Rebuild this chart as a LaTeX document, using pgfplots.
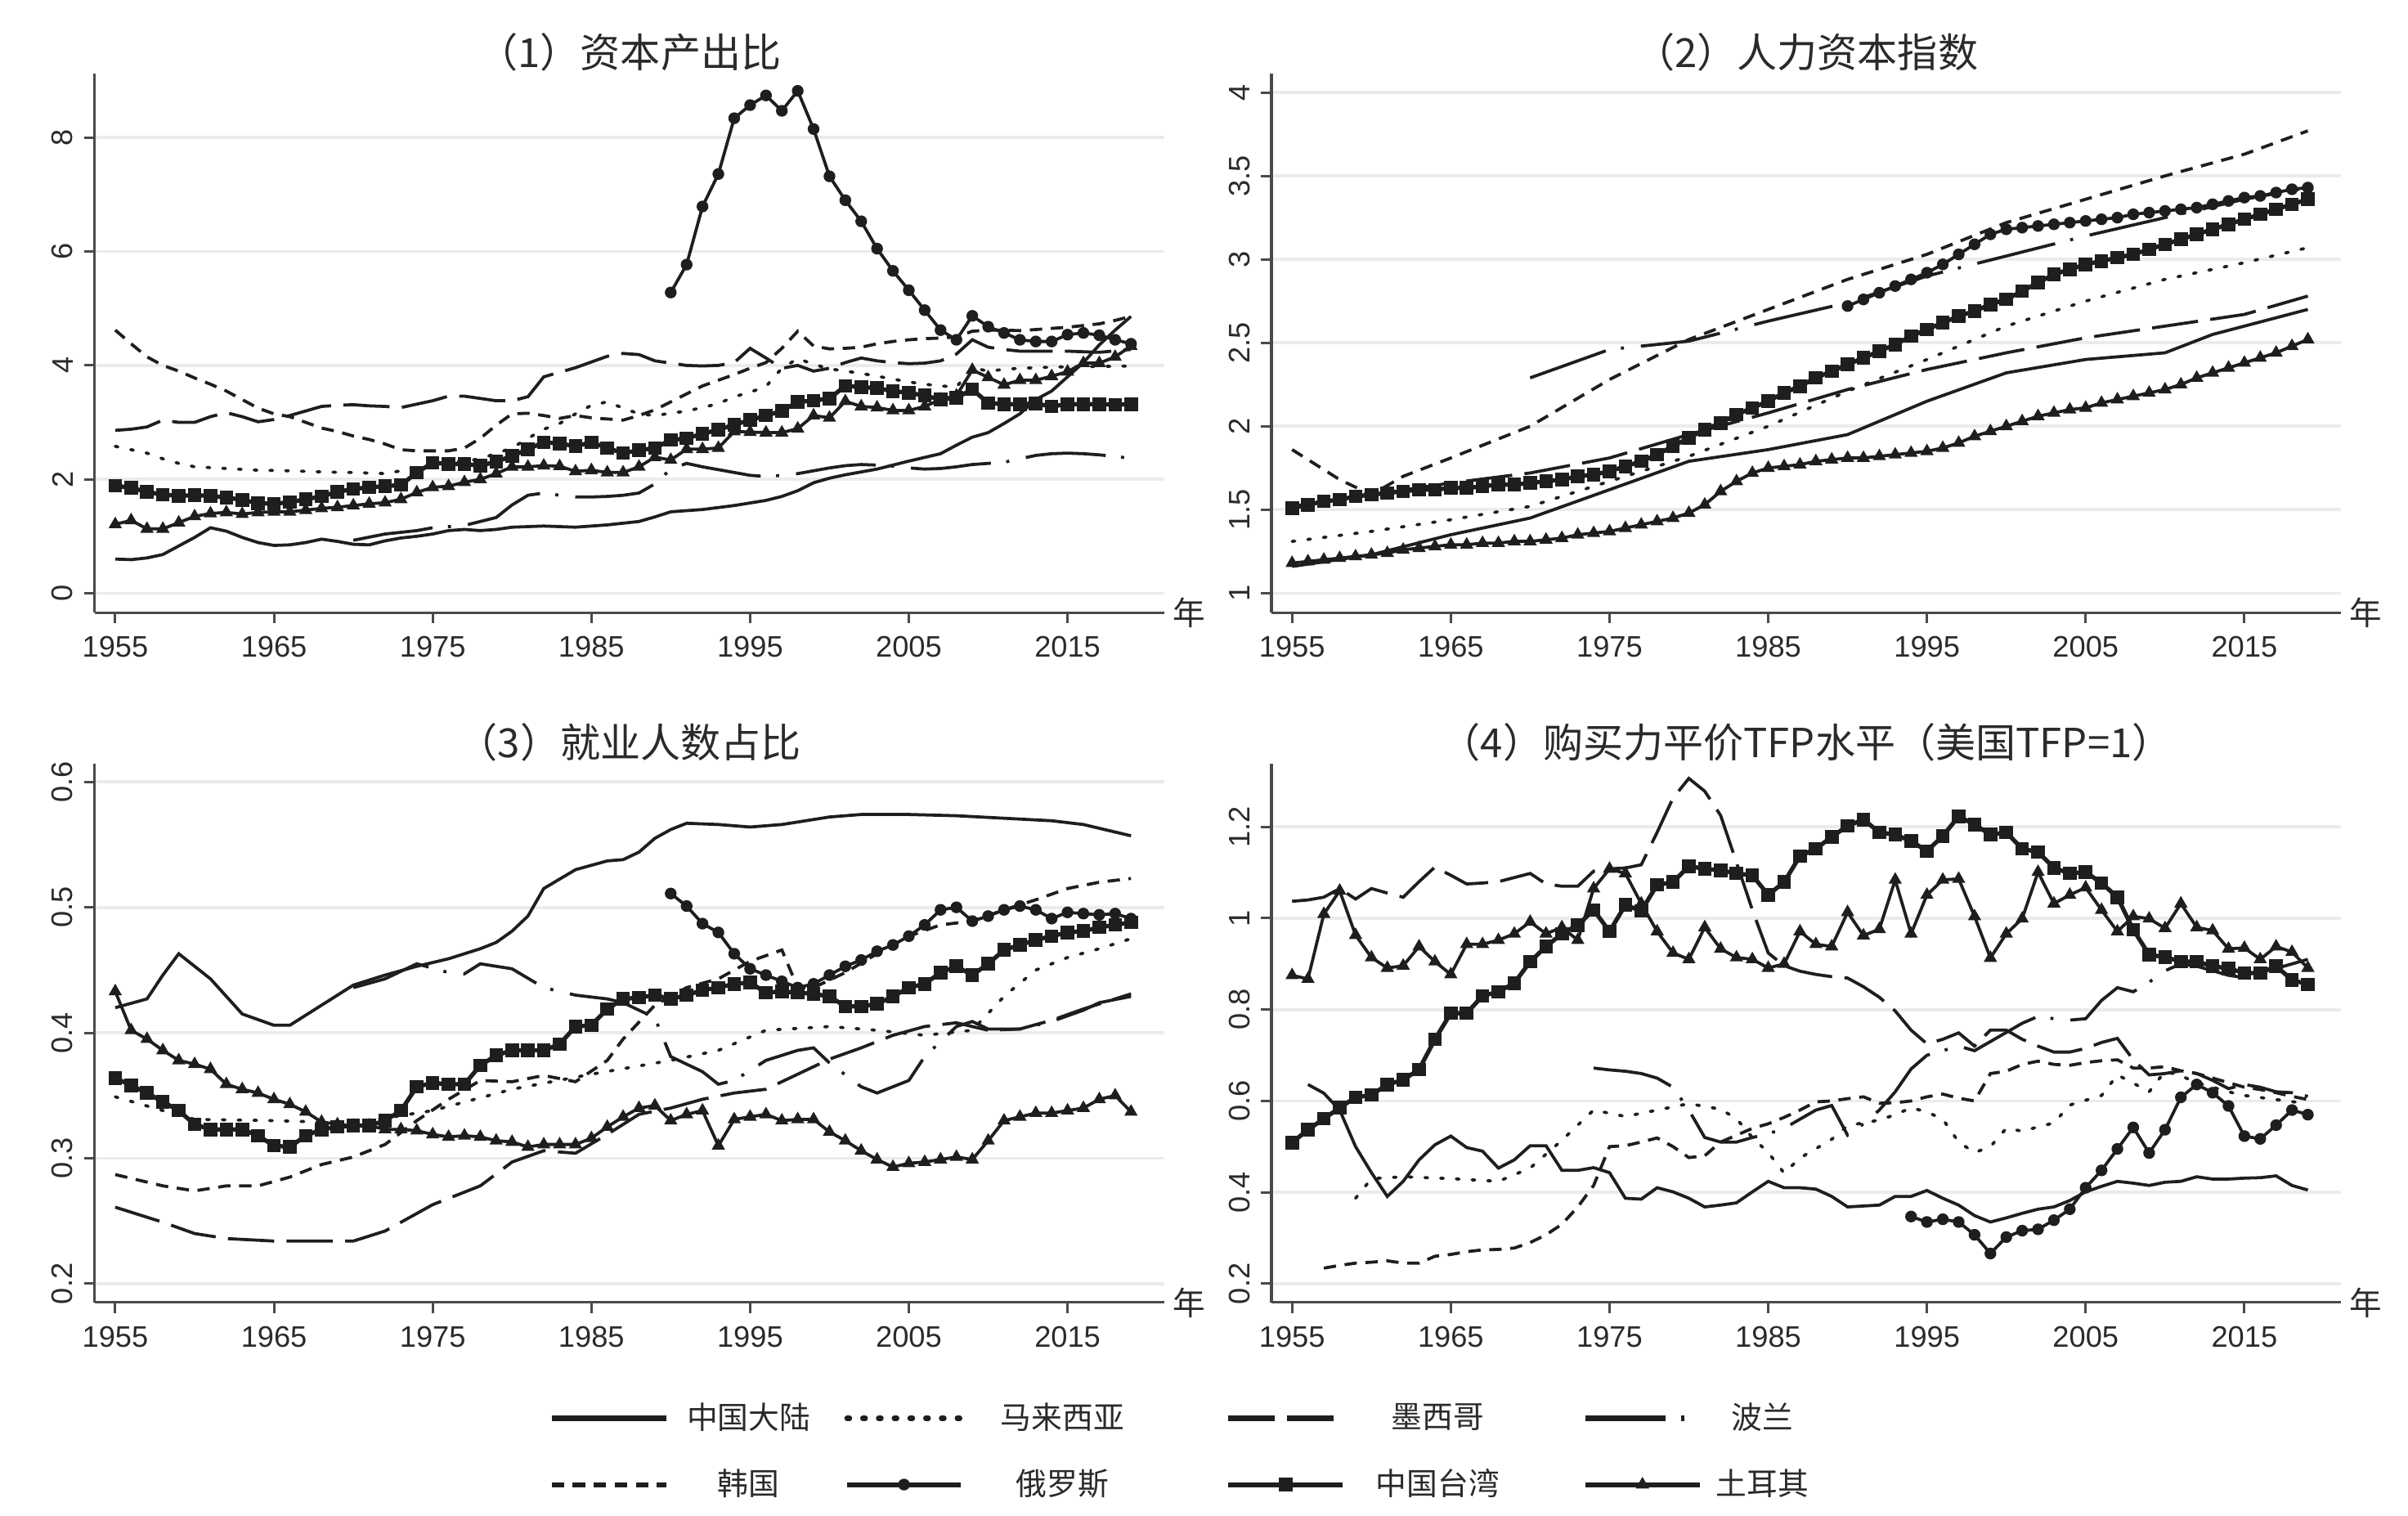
\documentclass[border=0pt]{standalone}
\usepackage{fontspec}
\usepackage{pgfplots}
\pgfplotsset{compat=1.18}
\setmainfont{Liberation Sans}
\newfontfamily\cjk{Noto Sans CJK SC}
\definecolor{ln}{HTML}{1E1E1E}
\definecolor{axc}{HTML}{4A4A4A}
\definecolor{gridc}{HTML}{EBEBEB}
\definecolor{txt}{HTML}{2A2A2A}
\pgfplotsset{
  panel/.style={
    scale only axis, width=346.5pt, height=174.5pt,
    xmin=1953.7, xmax=2021.1,
    axis lines*=left,
    axis line style={draw=axc, line width=0.8pt},
    tick align=outside, major tick length=3.5pt,
    tick style={draw=axc, line width=0.8pt},
    xtick={1955,1965,1975,1985,1995,2005,2015},
    x tick label style={/pgf/number format/1000 sep={}, yshift=-0.6pt},
    y tick label style={rotate=90, anchor=south},
    ymajorgrids, grid style={draw=gridc, line width=1pt},
    tick label style={font=\fontsize{9.6}{11}\selectfont, text=txt},
    /pgf/number format/assume math mode=true,
    title style={font=\cjk\fontsize{13}{15}\selectfont, text=txt, at={(axis description cs:0.5,1)}, anchor=center, yshift=1.0pt},
    xlabel={年},
    xlabel style={at={(axis description cs:1,0)}, anchor=west, inner sep=0pt, xshift=2.5pt, font=\cjk\fontsize{10.5}{12}\selectfont, text=txt},
  },
  lgimg/.style={legend image code/.code={\draw[mark repeat=2,mark phase=2,##1,line width=1.6pt] plot coordinates {(0pt,0pt) (18.5pt,0pt) (37pt,0pt)};}},
  cn/.style={draw=ln, line width=1pt, no markers},
  my/.style={draw=ln, line width=1pt, dash pattern=on 0.9pt off 4.2pt, line cap=round, no markers},
  mx/.style={draw=ln, line width=1pt, dash pattern=on 15pt off 4pt, no markers},
  pl/.style={draw=ln, line width=1pt, dash pattern=on 26pt off 5pt on 1pt off 5.5pt, no markers},
  kr/.style={draw=ln, line width=1pt, dash pattern=on 4pt off 2.8pt, no markers},
  ru/.style={draw=ln, line width=1pt, mark=*, mark size=1.6pt, mark options={solid, fill=ln, draw=ln, line width=0.6pt}},
  tw/.style={draw=ln, line width=1.4pt, mark=square*, mark size=1.9pt, mark options={solid, fill=ln, draw=ln, line width=0.6pt}},
  tr/.style={draw=ln, line width=1pt, mark=triangle*, mark size=1.9pt, mark options={solid, fill=ln, draw=ln, line width=0.6pt}},
}
\begin{document}
\begin{tikzpicture}
\useasboundingbox (0,0) rectangle (780pt,490.8pt);
% ================= Panel 1 =================
\begin{axis}[panel, at={(30.65pt,292.35pt)}, anchor=south west,
  ymin=-0.341, ymax=9.117, ytick={0,2,4,6,8},
  title={（1）资本产出比}]
\addplot[cn] coordinates {(1955,0.60)(1956,0.59)(1957,0.62)(1958,0.68)(1959,0.83)(1960,0.98)(1961,1.15)(1962,1.09)(1963,0.98)(1964,0.89)(1965,0.84)(1966,0.85)(1967,0.89)(1968,0.95)(1969,0.91)(1970,0.86)(1971,0.85)(1972,0.92)(1973,0.97)(1974,1.00)(1975,1.04)(1976,1.10)(1977,1.12)(1978,1.10)(1979,1.12)(1980,1.16)(1982,1.18)(1984,1.16)(1986,1.20)(1988,1.26)(1989,1.34)(1990,1.43)(1992,1.47)(1994,1.54)(1996,1.63)(1997,1.70)(1998,1.80)(1999,1.94)(2000,2.02)(2001,2.08)(2003,2.18)(2005,2.32)(2007,2.45)(2008,2.60)(2009,2.74)(2010,2.82)(2011,2.98)(2012,3.15)(2013,3.40)(2014,3.55)(2015,3.80)(2016,4.05)(2017,4.36)(2018,4.62)(2019,4.86)};
\addplot[my] coordinates {(1955,2.58)(1956,2.52)(1957,2.46)(1958,2.36)(1959,2.28)(1960,2.22)(1962,2.19)(1964,2.16)(1966,2.15)(1968,2.13)(1970,2.12)(1972,2.10)(1974,2.20)(1976,2.28)(1978,2.36)(1980,2.55)(1981,2.72)(1982,2.88)(1983,2.98)(1984,3.15)(1985,3.30)(1986,3.36)(1987,3.25)(1988,3.15)(1989,3.12)(1990,3.16)(1991,3.20)(1992,3.26)(1993,3.33)(1994,3.45)(1995,3.53)(1996,3.63)(1997,3.95)(1998,4.12)(1999,4.02)(2000,3.94)(2001,3.90)(2002,3.86)(2003,3.81)(2004,3.76)(2005,3.71)(2006,3.67)(2007,3.64)(2008,3.62)(2009,3.96)(2010,3.90)(2011,3.93)(2012,3.95)(2014,3.97)(2016,3.98)(2019,3.99)};
\addplot[mx] coordinates {(1955,2.86)(1956,2.88)(1957,2.92)(1958,3.04)(1959,3.00)(1960,3.00)(1961,3.10)(1962,3.17)(1963,3.10)(1964,3.01)(1965,3.05)(1966,3.12)(1967,3.20)(1968,3.28)(1969,3.30)(1970,3.31)(1971,3.29)(1972,3.28)(1973,3.26)(1974,3.32)(1975,3.38)(1976,3.46)(1977,3.46)(1978,3.42)(1979,3.38)(1980,3.38)(1981,3.45)(1982,3.80)(1983,3.88)(1984,3.96)(1985,4.06)(1986,4.16)(1987,4.21)(1988,4.19)(1989,4.08)(1990,4.04)(1991,4.00)(1992,3.99)(1993,4.00)(1994,4.05)(1995,4.30)(1996,4.13)(1997,3.95)(1998,4.00)(1999,3.90)(2000,3.95)(2001,4.05)(2002,4.13)(2003,4.08)(2004,4.05)(2005,4.03)(2006,4.04)(2007,4.08)(2008,4.20)(2009,4.45)(2010,4.32)(2011,4.28)(2012,4.25)(2013,4.25)(2015,4.25)(2017,4.23)(2019,4.28)};
\addplot[pl] coordinates {(1970,0.93)(1972,1.04)(1974,1.10)(1975,1.15)(1977,1.19)(1979,1.33)(1980,1.55)(1981,1.72)(1982,1.76)(1983,1.72)(1984,1.69)(1985,1.69)(1986,1.70)(1987,1.72)(1988,1.76)(1989,1.92)(1990,2.18)(1991,2.28)(1992,2.22)(1993,2.17)(1994,2.12)(1995,2.07)(1996,2.05)(1997,2.07)(1998,2.10)(1999,2.15)(2000,2.20)(2001,2.24)(2002,2.26)(2003,2.25)(2004,2.23)(2005,2.20)(2006,2.18)(2007,2.19)(2008,2.22)(2009,2.26)(2010,2.28)(2011,2.30)(2012,2.36)(2013,2.42)(2014,2.45)(2015,2.46)(2016,2.45)(2017,2.43)(2018,2.40)(2019,2.37)};
\addplot[kr] coordinates {(1955,4.62)(1956,4.38)(1957,4.15)(1958,4.00)(1959,3.90)(1960,3.78)(1961,3.67)(1962,3.55)(1963,3.40)(1964,3.25)(1965,3.15)(1966,3.10)(1967,3.00)(1968,2.90)(1969,2.84)(1970,2.76)(1971,2.70)(1972,2.62)(1973,2.52)(1974,2.50)(1975,2.50)(1976,2.50)(1977,2.55)(1978,2.72)(1979,2.95)(1980,3.15)(1981,3.16)(1982,3.12)(1983,3.07)(1984,3.12)(1985,3.08)(1986,3.06)(1987,3.04)(1988,3.12)(1989,3.22)(1990,3.36)(1991,3.50)(1992,3.64)(1993,3.74)(1994,3.84)(1995,3.95)(1996,4.05)(1997,4.30)(1998,4.60)(1999,4.34)(2000,4.29)(2001,4.30)(2002,4.32)(2003,4.38)(2004,4.42)(2005,4.45)(2006,4.47)(2007,4.48)(2008,4.50)(2009,4.60)(2010,4.62)(2011,4.62)(2012,4.61)(2013,4.63)(2014,4.65)(2015,4.67)(2016,4.70)(2017,4.73)(2018,4.79)(2019,4.86)};
\addplot[ru] coordinates {(1990,5.28)(1991,5.77)(1992,6.79)(1993,7.36)(1994,8.34)(1995,8.57)(1996,8.74)(1997,8.47)(1998,8.82)(1999,8.15)(2000,7.32)(2001,6.90)(2002,6.53)(2003,6.05)(2004,5.66)(2005,5.32)(2006,4.97)(2007,4.62)(2008,4.45)(2009,4.87)(2010,4.68)(2011,4.57)(2012,4.45)(2013,4.42)(2014,4.42)(2015,4.54)(2016,4.57)(2017,4.53)(2018,4.45)(2019,4.38)};
\addplot[tw] coordinates {(1955,1.89)(1956,1.85)(1957,1.78)(1958,1.73)(1959,1.71)(1960,1.72)(1961,1.71)(1962,1.68)(1963,1.64)(1964,1.58)(1965,1.57)(1966,1.60)(1967,1.65)(1968,1.70)(1969,1.78)(1970,1.83)(1971,1.86)(1972,1.88)(1973,1.90)(1974,2.12)(1975,2.29)(1976,2.27)(1977,2.27)(1978,2.24)(1979,2.31)(1980,2.41)(1981,2.53)(1982,2.65)(1983,2.63)(1984,2.58)(1985,2.65)(1986,2.55)(1987,2.46)(1988,2.51)(1989,2.55)(1990,2.69)(1991,2.72)(1992,2.80)(1993,2.87)(1994,2.96)(1995,3.04)(1996,3.12)(1997,3.20)(1998,3.36)(1999,3.38)(2000,3.42)(2001,3.64)(2002,3.62)(2003,3.60)(2004,3.55)(2005,3.52)(2006,3.47)(2007,3.40)(2008,3.43)(2009,3.58)(2010,3.34)(2011,3.32)(2012,3.32)(2013,3.33)(2014,3.28)(2015,3.32)(2016,3.32)(2017,3.32)(2018,3.31)(2019,3.32)};
\addplot[tr] coordinates {(1955,1.21)(1956,1.28)(1957,1.13)(1958,1.13)(1959,1.24)(1960,1.35)(1961,1.40)(1962,1.42)(1963,1.39)(1964,1.42)(1965,1.43)(1966,1.43)(1967,1.46)(1968,1.49)(1969,1.51)(1970,1.54)(1971,1.57)(1972,1.59)(1973,1.65)(1974,1.77)(1975,1.86)(1976,1.88)(1977,1.95)(1978,2.00)(1979,2.10)(1980,2.22)(1981,2.22)(1982,2.24)(1983,2.23)(1984,2.14)(1985,2.16)(1986,2.12)(1987,2.12)(1988,2.22)(1989,2.39)(1990,2.34)(1991,2.53)(1992,2.53)(1993,2.55)(1994,2.84)(1995,2.83)(1996,2.82)(1997,2.82)(1998,2.89)(1999,3.12)(2000,3.08)(2001,3.37)(2002,3.28)(2003,3.26)(2004,3.21)(2005,3.21)(2006,3.28)(2007,3.40)(2008,3.47)(2009,3.92)(2010,3.79)(2011,3.66)(2012,3.74)(2013,3.74)(2014,3.81)(2015,3.89)(2016,4.04)(2017,4.04)(2018,4.15)(2019,4.34)};
\end{axis}
% ================= Panel 2 =================
\begin{axis}[panel, at={(411.85pt,292.35pt)}, anchor=south west,
  ymin=0.883, ymax=4.111, ytick={1,1.5,2,2.5,3,3.5,4},
  title={（2）人力资本指数}]
\addplot[cn] coordinates {(1955,1.16)(1960,1.23)(1965,1.35)(1970,1.45)(1975,1.62)(1980,1.79)(1985,1.86)(1990,1.95)(1995,2.15)(2000,2.32)(2005,2.40)(2010,2.44)(2013,2.55)(2015,2.60)(2019,2.70)};
\addplot[my] coordinates {(1955,1.31)(1960,1.37)(1965,1.44)(1970,1.52)(1975,1.67)(1980,1.82)(1985,2.00)(1990,2.21)(1995,2.40)(2000,2.60)(2005,2.75)(2010,2.88)(2015,2.98)(2019,3.07)};
\addplot[mx] coordinates {(1955,1.52)(1960,1.59)(1965,1.66)(1970,1.72)(1975,1.81)(1980,1.95)(1985,2.08)(1990,2.22)(1995,2.34)(2000,2.44)(2005,2.53)(2010,2.60)(2015,2.67)(2019,2.78)};
\addplot[pl] coordinates {(1970,2.29)(1975,2.46)(1977,2.48)(1980,2.51)(1985,2.63)(1990,2.74)(1995,2.90)(2000,3.02)(2005,3.14)(2010,3.25)(2015,3.36)(2019,3.43)};
\addplot[kr] coordinates {(1955,1.86)(1958,1.68)(1960,1.59)(1962,1.70)(1965,1.81)(1970,2.00)(1975,2.28)(1980,2.52)(1985,2.70)(1990,2.88)(1995,3.03)(2000,3.22)(2005,3.36)(2010,3.50)(2015,3.63)(2019,3.77)};
\addplot[ru] coordinates {(1990,2.72)(1991,2.76)(1992,2.80)(1993,2.84)(1994,2.88)(1995,2.92)(1996,2.97)(1997,3.03)(1998,3.09)(1999,3.15)(2000,3.18)(2001,3.19)(2002,3.20)(2003,3.21)(2004,3.22)(2005,3.23)(2006,3.24)(2007,3.25)(2008,3.27)(2009,3.28)(2010,3.29)(2011,3.30)(2012,3.31)(2013,3.33)(2014,3.35)(2015,3.37)(2016,3.38)(2017,3.40)(2018,3.42)(2019,3.43)};
\addplot[tw] coordinates {(1955,1.51)(1956,1.53)(1957,1.55)(1958,1.56)(1959,1.58)(1960,1.59)(1961,1.60)(1962,1.61)(1963,1.62)(1964,1.62)(1965,1.63)(1966,1.63)(1967,1.64)(1968,1.65)(1969,1.65)(1970,1.66)(1971,1.67)(1972,1.68)(1973,1.70)(1974,1.71)(1975,1.73)(1976,1.76)(1977,1.79)(1978,1.83)(1979,1.88)(1980,1.93)(1981,1.98)(1982,2.02)(1983,2.07)(1984,2.11)(1985,2.15)(1986,2.20)(1987,2.24)(1988,2.29)(1989,2.33)(1990,2.37)(1991,2.41)(1992,2.45)(1993,2.49)(1994,2.54)(1995,2.58)(1996,2.62)(1997,2.66)(1998,2.69)(1999,2.73)(2000,2.76)(2001,2.81)(2002,2.86)(2003,2.91)(2004,2.94)(2005,2.97)(2006,2.99)(2007,3.01)(2008,3.03)(2009,3.06)(2010,3.09)(2011,3.12)(2012,3.15)(2013,3.18)(2014,3.21)(2015,3.24)(2016,3.27)(2017,3.30)(2018,3.33)(2019,3.36)};
\addplot[tr] coordinates {(1955,1.18)(1956,1.19)(1957,1.20)(1958,1.21)(1959,1.22)(1960,1.23)(1961,1.24)(1962,1.26)(1963,1.27)(1964,1.28)(1965,1.29)(1966,1.29)(1967,1.30)(1968,1.30)(1969,1.31)(1970,1.31)(1971,1.32)(1972,1.33)(1973,1.35)(1974,1.36)(1975,1.37)(1976,1.39)(1977,1.41)(1978,1.43)(1979,1.45)(1980,1.48)(1981,1.53)(1982,1.61)(1983,1.67)(1984,1.72)(1985,1.75)(1986,1.76)(1987,1.77)(1988,1.79)(1989,1.80)(1990,1.81)(1991,1.81)(1992,1.82)(1993,1.83)(1994,1.84)(1995,1.85)(1996,1.87)(1997,1.90)(1998,1.94)(1999,1.97)(2000,2.00)(2001,2.03)(2002,2.06)(2003,2.08)(2004,2.10)(2005,2.11)(2006,2.14)(2007,2.16)(2008,2.18)(2009,2.20)(2010,2.22)(2011,2.25)(2012,2.29)(2013,2.32)(2014,2.35)(2015,2.38)(2016,2.41)(2017,2.44)(2018,2.48)(2019,2.52)};
\end{axis}
% ================= Panel 3 =================
\begin{axis}[panel, at={(30.65pt,68.9pt)}, anchor=south west,
  ymin=0.185, ymax=0.6144, ytick={0.2,0.3,0.4,0.5,0.6},
  title={（3）就业人数占比},
  legend columns=4, legend cell align=center,
  legend style={draw=none, fill=none, at={(0.4158,-0.2765)}, anchor=west,
    font=\cjk\fontsize{10}{12}\selectfont, text=txt, row sep=7.5pt,
    /tikz/column 1/.style={column sep=4pt},
    /tikz/column 2/.style={column sep=9pt},
    /tikz/column 3/.style={column sep=10pt},
    /tikz/column 4/.style={column sep=31pt},
    /tikz/column 5/.style={column sep=8pt},
    /tikz/column 6/.style={column sep=25pt},
    /tikz/column 7/.style={column sep=2.5pt}}]
\addplot[cn, lgimg] coordinates {(1955,0.420)(1957,0.427)(1958,0.446)(1959,0.463)(1961,0.443)(1963,0.415)(1965,0.406)(1966,0.406)(1968,0.422)(1970,0.438)(1972,0.446)(1974,0.453)(1976,0.459)(1978,0.467)(1979,0.472)(1980,0.481)(1981,0.493)(1982,0.515)(1984,0.530)(1986,0.537)(1987,0.538)(1988,0.544)(1989,0.555)(1990,0.562)(1991,0.567)(1993,0.566)(1995,0.564)(1997,0.566)(2000,0.572)(2002,0.574)(2005,0.574)(2008,0.573)(2011,0.571)(2014,0.569)(2016,0.566)(2019,0.557)};
\addlegendentry{中国大陆}
\addplot[my, lgimg] coordinates {(1955,0.349)(1958,0.338)(1960,0.331)(1965,0.330)(1970,0.328)(1975,0.338)(1980,0.355)(1985,0.367)(1990,0.378)(1993,0.386)(1996,0.402)(2000,0.405)(2003,0.402)(2006,0.398)(2009,0.402)(2011,0.429)(2013,0.450)(2015,0.460)(2017,0.467)(2019,0.475)};
\addlegendentry{马来西亚}
\addplot[mx, lgimg] coordinates {(1955,0.261)(1958,0.249)(1960,0.240)(1962,0.236)(1965,0.234)(1970,0.234)(1972,0.242)(1975,0.263)(1978,0.278)(1980,0.297)(1982,0.306)(1984,0.304)(1986,0.319)(1988,0.335)(1990,0.340)(1992,0.347)(1994,0.352)(1996,0.355)(1998,0.367)(2000,0.379)(2002,0.388)(2004,0.398)(2006,0.405)(2008,0.408)(2010,0.402)(2012,0.403)(2014,0.410)(2016,0.419)(2019,0.431)};
\addlegendentry{墨西哥}
\addplot[pl, lgimg] coordinates {(1970,0.436)(1972,0.443)(1974,0.455)(1976,0.448)(1977,0.447)(1978,0.455)(1980,0.451)(1982,0.436)(1984,0.430)(1986,0.427)(1987,0.424)(1989,0.412)(1990,0.381)(1992,0.369)(1993,0.359)(1994,0.362)(1996,0.378)(1998,0.386)(1999,0.388)(2000,0.376)(2002,0.357)(2003,0.352)(2005,0.362)(2006,0.381)(2008,0.405)(2009,0.409)(2010,0.403)(2012,0.403)(2014,0.409)(2016,0.418)(2017,0.424)(2019,0.429)};
\addlegendentry{波兰}
\addplot[kr, lgimg] coordinates {(1955,0.287)(1958,0.278)(1960,0.274)(1962,0.278)(1964,0.278)(1966,0.285)(1968,0.295)(1970,0.301)(1972,0.311)(1974,0.330)(1976,0.347)(1978,0.362)(1980,0.361)(1982,0.366)(1984,0.361)(1986,0.378)(1987,0.395)(1989,0.422)(1991,0.436)(1993,0.443)(1995,0.457)(1997,0.466)(1998,0.436)(1999,0.436)(2001,0.448)(2003,0.463)(2005,0.477)(2007,0.486)(2009,0.489)(2011,0.498)(2013,0.506)(2015,0.515)(2017,0.520)(2019,0.523)};
\addlegendentry{韩国}
\addplot[ru, lgimg] coordinates {(1990,0.511)(1991,0.501)(1992,0.487)(1993,0.480)(1994,0.463)(1995,0.451)(1996,0.446)(1997,0.441)(1998,0.436)(1999,0.439)(2000,0.446)(2001,0.453)(2002,0.458)(2003,0.465)(2004,0.470)(2005,0.477)(2006,0.486)(2007,0.498)(2008,0.500)(2009,0.489)(2010,0.493)(2011,0.498)(2012,0.501)(2013,0.498)(2014,0.491)(2015,0.496)(2016,0.495)(2017,0.494)(2018,0.495)(2019,0.491)};
\addlegendentry{俄罗斯}
\addplot[tw, lgimg] coordinates {(1955,0.364)(1956,0.358)(1957,0.352)(1958,0.345)(1959,0.338)(1960,0.327)(1961,0.323)(1962,0.323)(1963,0.323)(1964,0.318)(1965,0.310)(1966,0.309)(1967,0.318)(1968,0.323)(1969,0.325)(1970,0.326)(1971,0.326)(1972,0.330)(1973,0.338)(1974,0.357)(1975,0.360)(1976,0.359)(1977,0.359)(1978,0.374)(1979,0.382)(1980,0.386)(1981,0.386)(1982,0.386)(1983,0.391)(1984,0.405)(1985,0.406)(1986,0.419)(1987,0.427)(1988,0.428)(1989,0.430)(1990,0.427)(1991,0.430)(1992,0.434)(1993,0.436)(1994,0.439)(1995,0.440)(1996,0.432)(1997,0.433)(1998,0.432)(1999,0.431)(2000,0.429)(2001,0.421)(2002,0.421)(2003,0.423)(2004,0.429)(2005,0.436)(2006,0.439)(2007,0.448)(2008,0.453)(2009,0.446)(2010,0.455)(2011,0.466)(2012,0.470)(2013,0.474)(2014,0.477)(2015,0.480)(2016,0.481)(2017,0.484)(2018,0.486)(2019,0.488)};
\addlegendentry{中国台湾}
\addplot[tr, lgimg] coordinates {(1955,0.433)(1956,0.402)(1957,0.395)(1958,0.386)(1959,0.378)(1960,0.375)(1961,0.371)(1962,0.359)(1963,0.355)(1964,0.352)(1965,0.347)(1966,0.343)(1967,0.337)(1968,0.329)(1969,0.327)(1970,0.326)(1971,0.326)(1972,0.323)(1973,0.323)(1974,0.322)(1975,0.319)(1976,0.317)(1977,0.318)(1978,0.317)(1979,0.314)(1980,0.313)(1981,0.309)(1982,0.311)(1983,0.311)(1984,0.311)(1985,0.316)(1986,0.325)(1987,0.333)(1988,0.340)(1989,0.342)(1990,0.330)(1991,0.335)(1992,0.338)(1993,0.310)(1994,0.331)(1995,0.333)(1996,0.335)(1997,0.330)(1998,0.331)(1999,0.331)(2000,0.321)(2001,0.314)(2002,0.306)(2003,0.299)(2004,0.293)(2005,0.296)(2006,0.297)(2007,0.299)(2008,0.301)(2009,0.299)(2010,0.314)(2011,0.330)(2012,0.333)(2013,0.336)(2014,0.336)(2015,0.338)(2016,0.340)(2017,0.347)(2018,0.350)(2019,0.337)};
\addlegendentry{土耳其}
\end{axis}
% ================= Panel 4 =================
\begin{axis}[panel, at={(411.85pt,68.9pt)}, anchor=south west,
  ymin=0.1587, ymax=1.338, ytick={0.2,0.4,0.6,0.8,1,1.2},
  title={（4）购买力平价TFP水平（美国TFP=1）}]
\addplot[cn] coordinates {(1956,0.636)(1957,0.617)(1958,0.580)(1959,0.500)(1960,0.443)(1961,0.391)(1962,0.424)(1963,0.471)(1964,0.504)(1965,0.523)(1966,0.498)(1967,0.490)(1968,0.453)(1969,0.471)(1970,0.502)(1971,0.502)(1972,0.448)(1973,0.448)(1974,0.454)(1975,0.443)(1976,0.387)(1977,0.385)(1978,0.410)(1979,0.401)(1980,0.387)(1981,0.368)(1982,0.372)(1983,0.377)(1984,0.401)(1985,0.424)(1986,0.410)(1987,0.410)(1988,0.407)(1989,0.391)(1990,0.368)(1991,0.370)(1992,0.372)(1993,0.391)(1994,0.391)(1995,0.404)(1996,0.387)(1997,0.372)(1998,0.349)(1999,0.335)(2000,0.344)(2001,0.354)(2002,0.363)(2003,0.368)(2004,0.382)(2005,0.401)(2006,0.413)(2007,0.424)(2008,0.420)(2009,0.415)(2010,0.422)(2011,0.424)(2012,0.434)(2013,0.429)(2014,0.429)(2015,0.431)(2016,0.432)(2017,0.436)(2018,0.415)(2019,0.405)};
\addplot[my] coordinates {(1959,0.387)(1960,0.430)(1962,0.434)(1965,0.430)(1968,0.424)(1970,0.453)(1972,0.514)(1974,0.580)(1976,0.566)(1978,0.580)(1980,0.594)(1982,0.582)(1983,0.561)(1984,0.520)(1985,0.487)(1986,0.442)(1987,0.475)(1989,0.516)(1990,0.546)(1992,0.558)(1993,0.570)(1994,0.585)(1995,0.576)(1996,0.560)(1997,0.510)(1998,0.487)(1999,0.500)(2000,0.540)(2001,0.534)(2003,0.552)(2004,0.591)(2006,0.612)(2007,0.657)(2008,0.639)(2009,0.620)(2010,0.665)(2011,0.655)(2012,0.640)(2014,0.620)(2015,0.612)(2017,0.603)(2019,0.594)};
\addplot[mx] coordinates {(1955,1.037)(1956,1.040)(1957,1.046)(1958,1.065)(1959,1.042)(1960,1.065)(1961,1.055)(1962,1.046)(1963,1.080)(1964,1.112)(1965,1.094)(1966,1.075)(1967,1.077)(1968,1.080)(1969,1.089)(1970,1.098)(1971,1.075)(1972,1.070)(1973,1.070)(1974,1.103)(1975,1.108)(1976,1.110)(1977,1.117)(1978,1.188)(1979,1.263)(1980,1.306)(1981,1.278)(1982,1.225)(1983,1.122)(1984,1.018)(1985,0.924)(1986,0.896)(1987,0.884)(1988,0.877)(1989,0.872)(1990,0.869)(1991,0.850)(1992,0.827)(1993,0.797)(1994,0.755)(1995,0.725)(1996,0.735)(1997,0.749)(1998,0.720)(1999,0.755)(2000,0.755)(2001,0.735)(2002,0.720)(2003,0.707)(2004,0.707)(2005,0.715)(2006,0.728)(2007,0.737)(2008,0.690)(2009,0.657)(2010,0.660)(2011,0.666)(2012,0.660)(2013,0.645)(2014,0.627)(2015,0.636)(2016,0.630)(2017,0.620)(2018,0.618)(2019,0.610)};
\addplot[pl] coordinates {(1974,0.672)(1975,0.668)(1976,0.665)(1977,0.660)(1978,0.650)(1979,0.630)(1980,0.580)(1981,0.520)(1982,0.510)(1983,0.510)(1984,0.520)(1985,0.528)(1986,0.540)(1987,0.560)(1988,0.580)(1989,0.590)(1990,0.525)(1991,0.550)(1992,0.580)(1993,0.620)(1994,0.670)(1995,0.700)(1996,0.710)(1997,0.720)(1998,0.710)(1999,0.730)(2000,0.750)(2001,0.770)(2002,0.785)(2003,0.780)(2004,0.777)(2005,0.780)(2006,0.820)(2007,0.848)(2008,0.839)(2009,0.860)(2010,0.885)(2011,0.900)(2012,0.895)(2013,0.885)(2014,0.875)(2015,0.870)(2016,0.875)(2017,0.890)(2018,0.900)(2019,0.910)};
\addplot[kr] coordinates {(1957,0.234)(1958,0.240)(1959,0.245)(1960,0.247)(1961,0.250)(1962,0.245)(1963,0.245)(1964,0.260)(1965,0.264)(1966,0.270)(1967,0.274)(1968,0.275)(1969,0.278)(1970,0.290)(1971,0.307)(1972,0.330)(1973,0.368)(1974,0.415)(1975,0.500)(1976,0.502)(1977,0.510)(1978,0.519)(1979,0.500)(1980,0.476)(1981,0.480)(1982,0.510)(1983,0.525)(1984,0.540)(1985,0.550)(1986,0.564)(1987,0.580)(1988,0.598)(1989,0.600)(1990,0.605)(1991,0.609)(1992,0.595)(1993,0.596)(1994,0.600)(1995,0.609)(1996,0.615)(1997,0.606)(1998,0.600)(1999,0.660)(2000,0.665)(2001,0.680)(2002,0.687)(2003,0.680)(2004,0.678)(2005,0.684)(2006,0.688)(2007,0.690)(2008,0.672)(2009,0.672)(2010,0.675)(2011,0.666)(2012,0.660)(2013,0.650)(2014,0.640)(2015,0.630)(2016,0.625)(2017,0.618)(2018,0.610)(2019,0.603)};
\addplot[ru] coordinates {(1994,0.347)(1995,0.335)(1996,0.341)(1997,0.335)(1998,0.307)(1999,0.266)(2000,0.302)(2001,0.316)(2002,0.319)(2003,0.339)(2004,0.363)(2005,0.410)(2006,0.448)(2007,0.495)(2008,0.542)(2009,0.486)(2010,0.537)(2011,0.608)(2012,0.636)(2013,0.618)(2014,0.589)(2015,0.523)(2016,0.517)(2017,0.547)(2018,0.580)(2019,0.570)};
\addplot[tw] coordinates {(1955,0.509)(1956,0.537)(1957,0.561)(1958,0.585)(1959,0.608)(1960,0.613)(1961,0.636)(1962,0.646)(1963,0.669)(1964,0.735)(1965,0.792)(1966,0.792)(1967,0.830)(1968,0.839)(1969,0.858)(1970,0.905)(1971,0.938)(1972,0.966)(1973,0.985)(1974,1.018)(1975,0.971)(1976,1.029)(1977,1.016)(1978,1.073)(1979,1.079)(1980,1.114)(1981,1.108)(1982,1.105)(1983,1.098)(1984,1.094)(1985,1.051)(1986,1.079)(1987,1.136)(1988,1.152)(1989,1.178)(1990,1.202)(1991,1.216)(1992,1.188)(1993,1.183)(1994,1.169)(1995,1.147)(1996,1.180)(1997,1.223)(1998,1.205)(1999,1.183)(2000,1.188)(2001,1.152)(2002,1.145)(2003,1.110)(2004,1.098)(2005,1.101)(2006,1.077)(2007,1.046)(2008,0.975)(2009,0.920)(2010,0.915)(2011,0.905)(2012,0.905)(2013,0.895)(2014,0.890)(2015,0.880)(2016,0.880)(2017,0.895)(2018,0.865)(2019,0.855)};
\addplot[tr] coordinates {(1955,0.875)(1956,0.867)(1957,1.009)(1958,1.060)(1959,0.963)(1960,0.914)(1961,0.891)(1962,0.896)(1963,0.938)(1964,0.905)(1965,0.877)(1966,0.943)(1967,0.943)(1968,0.952)(1969,0.966)(1970,0.992)(1971,0.966)(1972,0.980)(1973,0.952)(1974,1.065)(1975,1.108)(1976,1.098)(1977,1.032)(1978,0.971)(1979,0.924)(1980,0.910)(1981,0.980)(1982,0.933)(1983,0.914)(1984,0.910)(1985,0.891)(1986,0.900)(1987,0.971)(1988,0.943)(1989,0.938)(1990,1.013)(1991,0.962)(1992,0.976)(1993,1.084)(1994,0.966)(1995,1.051)(1996,1.084)(1997,1.086)(1998,1.004)(1999,0.913)(2000,0.966)(2001,0.999)(2002,1.101)(2003,1.032)(2004,1.051)(2005,1.067)(2006,1.018)(2007,0.971)(2008,1.004)(2009,0.999)(2010,0.978)(2011,1.032)(2012,0.980)(2013,0.973)(2014,0.933)(2015,0.935)(2016,0.910)(2017,0.938)(2018,0.926)(2019,0.891)};
\end{axis}
\end{tikzpicture}
\end{document}
